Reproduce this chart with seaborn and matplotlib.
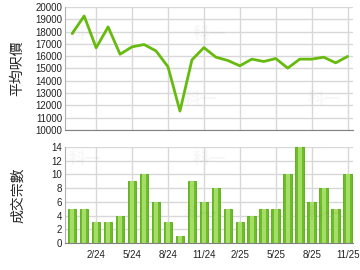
import matplotlib
matplotlib.use("Agg")
import matplotlib.pyplot as plt
import seaborn as sns
import numpy as np
import pandas as pd

months = ["12/23", "1/24", "2/24", "3/24", "4/24", "5/24", "6/24", "7/24", "8/24", "9/24",
          "10/24", "11/24", "12/24", "1/25", "2/25", "3/25", "4/25", "5/25", "6/25", "7/25",
          "8/25", "9/25", "10/25", "11/25"]
avg_price = [17840, 19270, 16680, 18380, 16160, 16760, 16950, 16430, 15140, 11540,
             15700, 16700, 15920, 15650, 15220, 15760, 15570, 15810, 15030, 15760,
             15760, 15920, 15460, 15980]
volume = [5, 5, 3, 3, 4, 9, 10, 6, 3, 1, 9, 6, 8, 5, 3, 4, 5, 5, 10, 14, 6, 8, 5, 10]
tick_labels = ["2/24", "5/24", "8/24", "11/24", "2/25", "5/25", "8/25", "11/25"]
price_ticks = [10000, 11000, 12000, 13000, 14000, 15000, 16000, 17000, 18000, 19000, 20000]
volume_ticks = [0, 2, 4, 6, 8, 10, 12, 14]

df = pd.DataFrame({"idx": np.arange(len(months)), "month": months,
                   "price": avg_price, "volume": volume})
tick_pos = [months.index(t) for t in tick_labels]

sns.set_style("white")
plt.rcParams["font.family"] = ["Liberation Sans", "Noto Sans CJK TC", "DejaVu Sans"]

W, H = 360, 270
fig = plt.figure(figsize=(W / 100, H / 100), dpi=100)
ax1 = fig.add_axes([65 / W, 1 - 130 / H, 288 / W, 123 / H])
ax2 = fig.add_axes([65 / W, 1 - 243 / H, 288 / W, 96 / H])

xlim = (-0.6, 23.45)
grid_c = "#d8d8d8"

for ax in (ax1, ax2):
    ax.set_xlim(*xlim)
    ax.set_xticks(tick_pos)
    ax.grid(True, color=grid_c, linewidth=1)
    ax.set_axisbelow(True)
    for s in ("top", "right"):
        ax.spines[s].set_visible(False)
    ax.spines["left"].set_color("#b0b0b0")
    ax.spines["bottom"].set_color("#808080")
    ax.tick_params(axis="both", labelsize=7, colors="#222222", length=0, pad=2)
    ax.tick_params(axis="x", length=3, color="#999999", width=0.8)

sns.lineplot(data=df, x="idx", y="price", ax=ax1, color="#66bb0e", linewidth=2)
ax1.set_ylim(10000, 20000)
ax1.set_yticks(price_ticks)
ax1.set_xticklabels([])
ax1.set_xlabel("")
ax1.set_ylabel("平均呎價", fontsize=10, family=["Noto Sans CJK TC"])
ax1.tick_params(axis="x", length=0)

sns.barplot(data=df, x="idx", y="volume", ax=ax2, native_scale=True,
            color="#6cbf22", width=0.72, saturation=1, edgecolor="#5aa818", linewidth=0.6)
sns.barplot(data=df, x="idx", y="volume", ax=ax2, native_scale=True,
            color="#a6dc6a", width=0.34, saturation=1, linewidth=0)
ax2.set_xlim(*xlim)
ax2.set_ylim(0, 14)
ax2.set_yticks(volume_ticks)
ax2.set_xticks(tick_pos)
ax2.set_xticklabels(tick_labels)
ax2.set_xlabel("")
ax2.set_ylabel("成交宗數", fontsize=10, family=["Noto Sans CJK TC"])

for ax, pts in ((ax1, [(0.07, 0.78), (0.47, 0.25), (0.5, 0.78), (0.9, 0.25)]),
                (ax2, [(0.07, 0.88), (0.5, 0.88), (0.47, 0.3), (0.9, 0.3)])):
    for (px, py) in pts:
        ax.text(px, py, "科一", transform=ax.transAxes, fontsize=12, color="#000000",
                alpha=0.03, family=["Noto Sans CJK TC"], fontweight="bold",
                ha="center", va="center")

ax1.yaxis.set_label_coords(-0.14, 0.5)
ax2.yaxis.set_label_coords(-0.14, 0.5)

fig.savefig("out.png", dpi=100)
